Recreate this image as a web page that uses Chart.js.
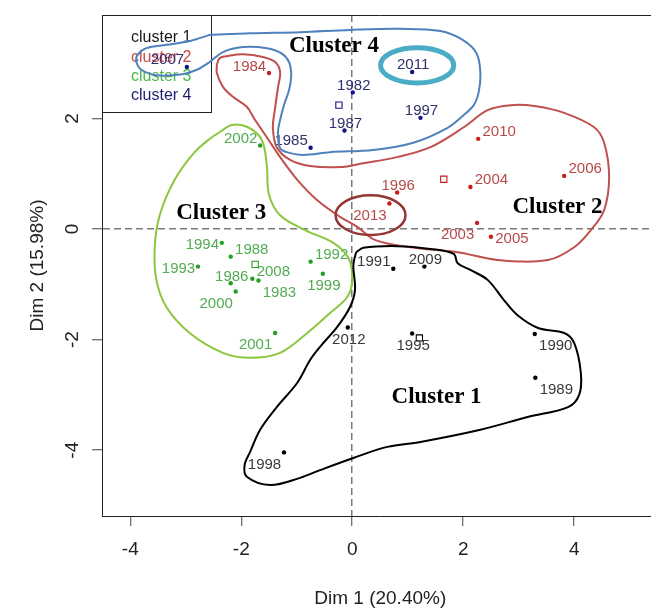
<!DOCTYPE html>
<html><head><meta charset="utf-8">
<script src="https://cdn.jsdelivr.net/npm/chart.js@4.4.1/dist/chart.umd.min.js"></script>
<style>html,body{margin:0;padding:0;overflow:hidden;background:#fff}canvas{display:block}</style>
</head><body>
<canvas id="c" width="664" height="610" style="width:664px;height:610px"></canvas>
<script>
// ---- axes ----
const xTicks = [-4, -2, 0, 2, 4];
const yTicks = [-4, -2, 0, 2];
const xTitle = 'Dim 1 (20.40%)';
const yTitle = 'Dim 2 (15.98%)';
const clusterNames = ['cluster 1', 'cluster 2', 'cluster 3', 'cluster 4'];
const clusterTitles = ['Cluster 1', 'Cluster 2', 'Cluster 3', 'Cluster 4'];

// ---- individuals (years) per cluster ----
const c1Years = ['1991', '2009', '2012', '1995', '1990', '1989', '1998'];
const c1X = [0.74, 1.30, -0.08, 1.08, 3.29, 3.30, -1.23];
const c1Y = [-0.72, -0.68, -1.78, -1.89, -1.90, -2.69, -4.04];

const c2Years = ['1984', '2010', '2006', '2004', '1996', '2013', '2003', '2005'];
const c2X = [-1.50, 2.27, 3.82, 2.13, 0.81, 0.67, 2.25, 2.50];
const c2Y = [2.82, 1.63, 0.96, 0.76, 0.66, 0.46, 0.11, -0.14];

const c3Years = ['2002', '1994', '1988', '1993', '1986', '2000', '2008', '1983', '1992', '1999', '2001'];
const c3X = [-1.66, -2.35, -2.19, -2.78, -2.19, -2.10, -1.80, -1.69, -0.75, -0.53, -1.39];
const c3Y = [1.51, -0.25, -0.50, -0.68, -0.98, -1.13, -0.90, -0.93, -0.59, -0.81, -1.88];

const c4Years = ['2007', '2011', '1982', '1987', '1997', '1985'];
const c4X = [-2.98, 1.08, 0.01, -0.14, 1.23, -0.75];
const c4Y = [2.93, 2.84, 2.47, 1.78, 2.01, 1.47];

// cluster centres (open squares)
const centerX = [1.21, 1.65, -1.75, -0.24];
const centerY = [-1.97, 0.90, -0.64, 2.24];

// ---- hand-drawn annotations (data units) ----
const outline1 = [[0.07,-0.42],[0.20,-0.34],[0.81,-0.31],[1.41,-0.36],[1.83,-0.45],[1.90,-0.62],[2.13,-0.74],[2.44,-0.92],[2.73,-1.28],[2.98,-1.56],[3.35,-1.79],[3.82,-1.88],[4.00,-2.06],[4.12,-2.60],[4.09,-3.00],[3.89,-3.22],[3.16,-3.40],[2.31,-3.63],[1.23,-3.85],[0.63,-3.94],[0.02,-4.14],[-0.58,-4.36],[-0.94,-4.50],[-1.48,-4.63],[-1.90,-4.48],[-1.94,-4.27],[-1.84,-4.03],[-1.66,-3.63],[-1.36,-3.22],[-0.99,-2.78],[-0.76,-2.37],[-0.58,-2.13],[-0.27,-1.77],[-0.04,-1.41],[0.05,-1.10],[0.02,-0.65]];
const outline2 = [[-2.44,2.97],[-2.39,3.09],[-2.24,3.13],[-1.97,3.16],[-1.61,3.11],[-1.39,3.02],[-1.30,2.84],[-1.34,2.55],[-1.39,2.19],[-1.43,1.83],[-1.36,1.48],[-1.12,1.25],[-0.76,1.14],[-0.22,1.12],[0.20,1.19],[0.81,1.30],[1.41,1.48],[2.01,1.84],[2.44,2.15],[2.86,2.24],[3.31,2.22],[3.82,2.10],[4.36,1.84],[4.54,1.56],[4.63,0.94],[4.54,0.34],[4.30,-0.02],[4.00,-0.33],[3.53,-0.56],[2.62,-0.56],[1.90,-0.42],[1.05,-0.33],[0.42,-0.20],[0.09,0.04],[-0.22,0.22],[-0.63,0.52],[-0.99,0.89],[-1.30,1.30],[-1.54,1.66],[-1.75,1.97],[-1.90,2.21],[-2.15,2.39],[-2.33,2.57],[-2.44,2.82]];
const outline3 = [[-2.39,1.75],[-2.17,1.88],[-1.88,1.84],[-1.63,1.61],[-1.54,1.16],[-1.50,0.62],[-1.30,0.25],[-0.85,-0.02],[-0.34,-0.25],[-0.07,-0.52],[0.00,-0.92],[-0.09,-1.23],[-0.40,-1.52],[-0.81,-1.88],[-1.30,-2.24],[-1.84,-2.33],[-2.33,-2.24],[-2.93,-1.88],[-3.35,-1.41],[-3.53,-0.92],[-3.56,-0.33],[-3.47,0.25],[-3.20,0.89],[-2.84,1.39],[-2.53,1.66]];
const outline4 = [[-2.57,3.51],[-1.84,3.54],[-0.94,3.56],[-0.04,3.60],[0.87,3.62],[1.59,3.58],[1.99,3.42],[2.24,3.18],[2.31,2.82],[2.28,2.48],[2.19,2.24],[2.01,2.06],[1.72,1.83],[1.10,1.56],[0.38,1.43],[-0.40,1.39],[-0.89,1.34],[-1.18,1.39],[-1.30,1.46],[-1.34,1.74],[-1.30,1.97],[-1.23,2.24],[-1.14,2.51],[-1.10,2.78],[-1.14,3.02],[-1.28,3.18],[-1.54,3.27],[-1.97,3.29],[-2.33,3.20],[-2.57,3.02],[-2.80,2.88],[-3.06,2.80],[-3.53,2.78],[-3.80,2.88],[-3.89,3.02],[-3.87,3.15],[-3.71,3.27],[-3.35,3.33],[-2.93,3.40]];
const clusterTextX = [1.52, 3.70, -2.36, -0.33];
const clusterTextY = [-3.04, 0.40, 0.29, 3.31];
const ellipseX = [1.17, 0.33];
const ellipseY = [2.96, 0.25];
const ellipseRX = [0.66, 0.63];
const ellipseRY = [0.32, 0.36];

// ---- styles ----
const FONT = '"Liberation Sans", Arial, sans-serif';
const SERIF = '"Liberation Serif", "Times New Roman", serif';
const ptColors = ['#000000', '#cc1a1a', '#22a022', '#10108a'];
const labColors = ['#3a3a3a', '#b84848', '#52ab52', '#30306e'];
const legColors = ['#1a1a1a', '#c84b4b', '#4cb84c', '#1e1e70'];
const outlineColors = ['#000000', '#c0504d', '#8cc63f', '#4f81bd'];
const ellipseColors = ['#4bacc6', '#943634'];
const ellipseWidths = [5, 2.5];
const labelPlace = {'2007':'NW','2011':'N','1982':'N','1987':'N','1997':'N','1985':'NW',
  '1984':'NW','2010':'NE','2006':'NE','2004':'NE','1996':'N','2013':'SW','2003':'SW','2005':'E',
  '2002':'NW','1994':'W','1988':'NE','1993':'W','1986':'N','2008':'NE','1983':'SE','2000':'SW',
  '1992':'NE','1999':'S','2001':'SW','1991':'NW','2009':'N','2012':'S','1995':'S','1990':'SE',
  '1989':'SE','1998':'SW'};

const groups = [[c1Years,c1X,c1Y],[c2Years,c2X,c2Y],[c3Years,c3X,c3Y],[c4Years,c4X,c4Y]];
const outlines = [outline1, outline2, outline3, outline4];

const datasets = [];
groups.forEach((g, k) => {
  datasets.push({
    label: clusterNames[k],
    data: g[1].map((x, i) => ({x: x, y: g[2][i], year: g[0][i]})),
    pointRadius: 2.2, pointBackgroundColor: ptColors[k], pointBorderWidth: 0,
    showLine: false, order: 3, isPts: true, cl: k
  });
});
datasets.push({
  label: 'centres',
  data: centerX.map((x, i) => ({x: x, y: centerY[i]})),
  pointStyle: 'rect', pointRadius: 4.4, pointBackgroundColor: 'rgba(0,0,0,0)',
  pointBorderColor: ptColors, pointBorderWidth: 1.1, showLine: false, order: 3
});
outlines.forEach((o, k) => {
  const pts = o.map(p => ({x: p[0], y: p[1]}));
  pts.push({x: o[0][0], y: o[0][1]});
  datasets.push({
    label: 'outline ' + (k + 1), data: pts, showLine: true, tension: 0.35,
    pointRadius: 0, borderColor: outlineColors[k], borderWidth: 2, fill: false, order: 1
  });
});

const annot = {
  id: 'annot',
  beforeDatasetsDraw(chart) {
    const {ctx, chartArea: a} = chart;
    ctx.save();
    ctx.strokeStyle = '#222'; ctx.lineWidth = 1;
    ctx.beginPath();
    ctx.moveTo(a.left, a.top + 0.5); ctx.lineTo(a.right, a.top + 0.5);
    ctx.moveTo(a.right - 0.5, a.top); ctx.lineTo(a.right - 0.5, a.bottom);
    ctx.stroke();
    // legend box
    const lx = a.left, ly = a.top, lw = 109, lh = 97;
    ctx.fillStyle = '#fff'; ctx.fillRect(lx, ly, lw, lh);
    ctx.strokeRect(lx + 0.5, ly + 0.5, lw, lh);
    ctx.font = '16px ' + FONT;
    ctx.textAlign = 'left'; ctx.textBaseline = 'middle';
    clusterNames.forEach((n, i) => {
      ctx.fillStyle = legColors[i];
      ctx.fillText(n, lx + 29, ly + 23 + i * 19.1);
    });
    ctx.restore();
  },
  afterDatasetDraw(chart, args) {
    const ds = chart.data.datasets[args.index];
    if (!ds.isPts) return;
    const ctx = chart.ctx;
    ctx.save();
    ctx.font = '15px ' + FONT;
    ctx.textAlign = 'center'; ctx.textBaseline = 'middle';
    ctx.fillStyle = labColors[ds.cl];
    args.meta.data.forEach((el, i) => {
      const code = labelPlace[ds.data[i].year] || 'N';
      const dx = code.includes('W') ? -19.5 : (code.includes('E') ? 21 : 1);
      const dy = code.includes('N') ? -6.7 : (code.includes('S') ? 12 : 2);
      ctx.fillText(ds.data[i].year, el.x + dx, el.y + dy);
    });
    ctx.restore();
  },
  afterDatasetsDraw(chart) {
    const ctx = chart.ctx, sx = chart.scales.x, sy = chart.scales.y;
    ctx.save();
    ctx.font = 'bold 23px ' + SERIF;
    ctx.textAlign = 'center'; ctx.textBaseline = 'middle';
    ctx.fillStyle = '#000';
    clusterTitles.forEach((t, i) => {
      ctx.fillText(t, sx.getPixelForValue(clusterTextX[i]), sy.getPixelForValue(clusterTextY[i]));
    });
    ellipseX.forEach((ex, i) => {
      const cx = sx.getPixelForValue(ex), cy = sy.getPixelForValue(ellipseY[i]);
      const rx = Math.abs(sx.getPixelForValue(ex + ellipseRX[i]) - cx);
      const ry = Math.abs(sy.getPixelForValue(ellipseY[i] + ellipseRY[i]) - cy);
      ctx.beginPath();
      ctx.ellipse(cx, cy, rx, ry, 0, 0, Math.PI * 2);
      ctx.strokeStyle = ellipseColors[i]; ctx.lineWidth = ellipseWidths[i];
      ctx.stroke();
    });
    ctx.restore();
  }
};

const zeroGrid = c => (c.tick && c.tick.value === 0) ? '#7a7a7a' : 'rgba(0,0,0,0)';

new Chart(document.getElementById('c'), {
  type: 'scatter',
  data: {datasets: datasets},
  options: {
    responsive: false, animation: false, devicePixelRatio: 1,
    layout: {padding: {left: 0, top: 15, right: 2, bottom: 0}},
    plugins: {legend: {display: false}, tooltip: {enabled: false}},
    scales: {
      x: {
        type: 'linear', min: -4.51, max: 5.52,
        afterBuildTicks: s => { s.ticks = xTicks.map(v => ({value: v})); },
        afterFit: s => { s.height = 94; s.paddingLeft = 0; s.paddingRight = 0; },
        grid: {color: zeroGrid, lineWidth: 1.5, tickColor: '#444', tickLength: 10, tickWidth: 1},
        border: {display: true, color: '#222', width: 1, dash: [7, 4]},
        ticks: {font: {family: FONT, size: 19}, color: '#222', padding: 12, maxRotation: 0, minRotation: 0},
        title: {display: true, text: xTitle, font: {family: FONT, size: 19}, color: '#222', padding: {top: 0, bottom: 0}}
      },
      y: {
        type: 'linear', min: -5.19, max: 3.87,
        afterBuildTicks: s => { s.ticks = yTicks.map(v => ({value: v})); },
        afterFit: s => { s.width = 102; s.paddingTop = 0; s.paddingBottom = 0; },
        grid: {color: zeroGrid, lineWidth: 1.5, tickColor: '#444', tickLength: 10, tickWidth: 1},
        border: {display: true, color: '#222', width: 1, dash: [7, 4]},
        ticks: {font: {family: FONT, size: 19}, color: '#222', padding: 11, minRotation: 90, maxRotation: 90, crossAlign: 'center'},
        title: {display: true, text: yTitle, font: {family: FONT, size: 19}, color: '#222', padding: {top: 26, bottom: 0}}
      }
    }
  },
  plugins: [annot]
});
</script>
</body></html>
